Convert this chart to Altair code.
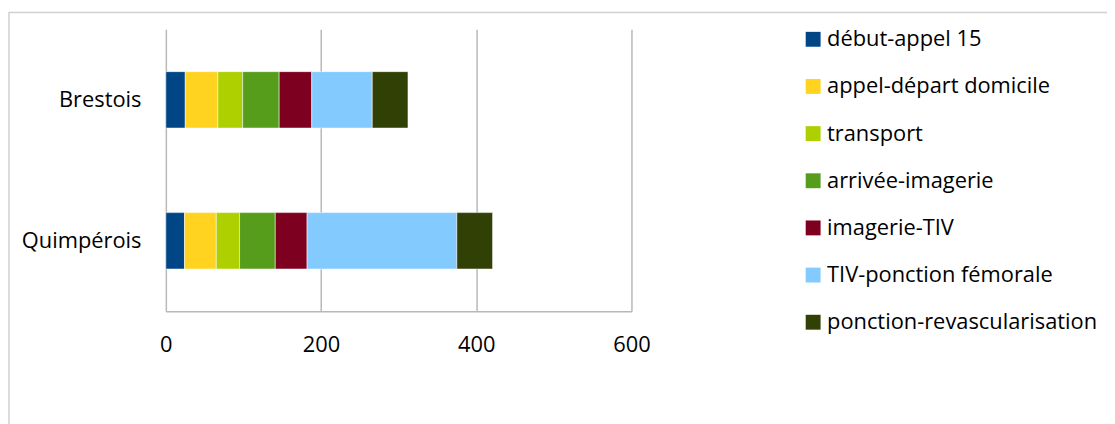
import altair as alt
import pandas as pd

regions = ["Brestois", "Quimpérois"]
steps = ["début-appel 15", "appel-départ domicile", "transport", "arrivée-imagerie",
         "imagerie-TIV", "TIV-ponction fémorale", "ponction-revascularisation"]
brestois = [25, 42, 32, 47, 42, 78, 46]
quimperois = [24, 41, 30, 46, 41, 193, 46]
colors = ["#004586", "#ffd320", "#aecf00", "#579d1c", "#7e0021", "#83caff", "#314004"]
ticks = [0, 200, 400, 600]

rows = []
for reg, vals in zip(regions, [brestois, quimperois]):
    for i, (s, v) in enumerate(zip(steps, vals)):
        rows.append({"region": reg, "step": s, "value": v, "order": i})
df = pd.DataFrame(rows)

FONT = "Open Sans"

bars = alt.Chart(df).mark_bar(stroke="white", strokeWidth=0.5).encode(
    x=alt.X("value:Q", stack="zero",
            scale=alt.Scale(domain=[0, 600], nice=False),
            axis=alt.Axis(values=ticks, title=None, ticks=False, grid=True,
                          gridColor="#b8b8b8", gridWidth=1.5,
                          domain=True, domainColor="#b8b8b8", domainWidth=1.5,
                          labelFontSize=22, labelFont=FONT, labelColor="#000000",
                          labelPadding=23, labelFlush=False)),
    y=alt.Y("region:N", sort=regions,
            scale=alt.Scale(paddingInner=0.6, paddingOuter=0.3),
            axis=alt.Axis(title=None, ticks=False, domain=False,
                          labelFontSize=22, labelFont=FONT, labelColor="#000000",
                          labelPadding=25)),
    color=alt.Color("step:N", sort=steps,
                    scale=alt.Scale(domain=steps, range=colors),
                    legend=alt.Legend(title=None, orient="none", legendX=641, legendY=-1,
                                      symbolType="square", symbolSize=225,
                                      symbolStrokeWidth=0, labelFontSize=22,
                                      labelFont=FONT, labelColor="#000000",
                                      rowPadding=25.5, labelOffset=3, labelLimit=400)),
    order=alt.Order("order:Q"),
)

border = alt.Chart(pd.DataFrame({"k": [0]})).mark_rect(
    fill=None, stroke="#d0d0d0", strokeWidth=1.5).encode(
    x=alt.value(-158), x2=alt.value(949), y=alt.value(-17), y2=alt.value(430)
)

chart = alt.layer(border, bars).properties(
    width=469, height=284,
    autosize=alt.AutoSizeParams(type="none"),
    padding={"left": 159, "top": 20, "right": 479, "bottom": 112},
).configure_view(stroke=None)

chart.save("out.html", embed_options={"renderer": "svg", "actions": False})
